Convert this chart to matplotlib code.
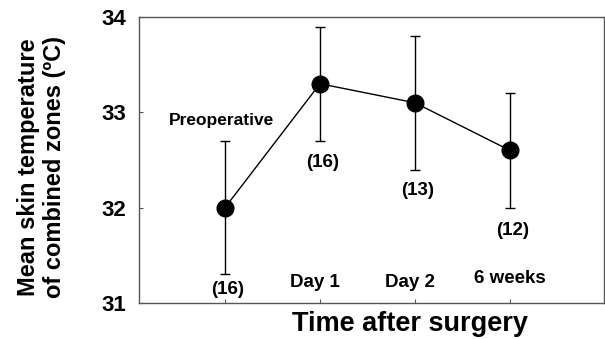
import matplotlib.pyplot as plt

plt.rcParams['font.family'] = ['Liberation Sans', 'DejaVu Sans']
plt.rcParams['font.weight'] = 'bold'

time_points = [1, 2, 3, 4]
categories = ['Preoperative', 'Day 1', 'Day 2', '6 weeks']
mean_temp = [32.0, 33.3, 33.1, 32.6]
sd_temp = [0.7, 0.6, 0.7, 0.6]
n_patients = ['(16)', '(16)', '(13)', '(12)']
yticks = [31, 32, 33, 34]

fig = plt.figure(figsize=(6.05, 3.39), dpi=100)
ax = fig.add_axes([0.2298, 0.1062, 0.7686, 0.8437])

ax.errorbar(time_points, mean_temp, yerr=sd_temp, color='black', lw=1,
            marker='o', markersize=12, capsize=3.5, elinewidth=1, capthick=1)

# category names and group sizes written inside the axes
ax.text(0.96, 32.91, categories[0], ha='center', va='center', fontsize=12.5)
cat_y = [31.22, 31.22, 31.26]
cat_dx = [-0.05, -0.05, 0.0]
for x, lab, y, dx in zip(time_points[1:], categories[1:], cat_y, cat_dx):
    ax.text(x + dx, y, lab, ha='center', va='center', fontsize=13.5)
n_y = [31.14, 32.47, 32.18, 31.76]
for x, lab, y in zip(time_points, n_patients, n_y):
    ax.text(x + 0.03, y, lab, ha='center', va='center', fontsize=13.5)

ax.set_xlim(0.095, 4.99)
ax.set_ylim(31, 34)
ax.set_xticks(time_points)
ax.set_xticklabels([])
ax.set_yticks(yticks)
ax.set_yticklabels([str(t) for t in yticks], fontsize=16)
ax.tick_params(direction='in', length=3, width=0.8, color='#555555', pad=9)
for s in ax.spines.values():
    s.set_color('#555555')
    s.set_linewidth(1)

fig.text(0.069, 0.507, 'Mean skin temperature\nof combined zones (ºC)', rotation=90,
         ha='center', va='center', fontsize=17, fontweight='bold', linespacing=1.15)
fig.text(0.677, 0.045, 'Time after surgery', ha='center', va='center', fontsize=19.5)

fig.savefig('out.png', dpi=100)
